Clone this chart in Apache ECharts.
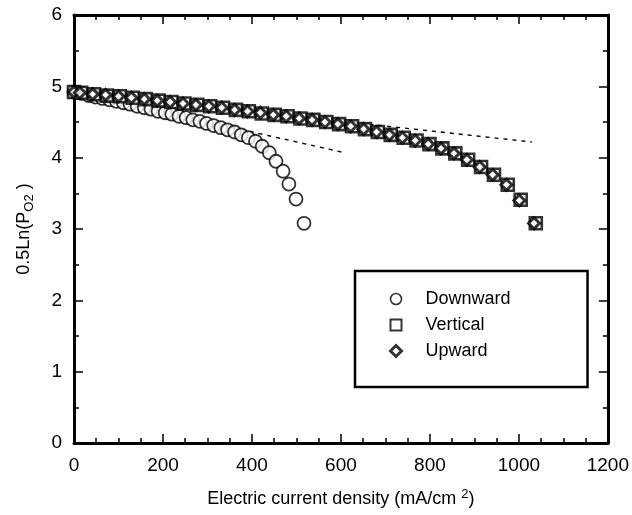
<!DOCTYPE html>
<html>
<head>
<meta charset="utf-8">
<script src="https://cdn.jsdelivr.net/npm/echarts@6/dist/echarts.min.js"></script>
<style>
html, body { margin: 0; padding: 0; background: #fff; }
#chart { width: 632px; height: 515px; }
</style>
</head>
<body>
<div id="chart"></div>
<script>
// Downward
var downX = [0, 17, 33, 48, 64, 80, 95, 111, 126, 142, 158, 173, 189, 205, 220, 236, 252, 267,
    283, 298, 314, 330, 345, 361, 376, 392, 408, 423, 439, 454, 470, 483, 499, 517];
var downY = [4.92, 4.90, 4.87, 4.85, 4.83, 4.81, 4.79, 4.77, 4.75, 4.72, 4.70, 4.68, 4.65, 4.63, 4.61, 4.58, 4.56, 4.53,
    4.51, 4.48, 4.45, 4.42, 4.39, 4.36, 4.32, 4.28, 4.23, 4.16, 4.07, 3.95, 3.81, 3.63, 3.42, 3.08];

// Vertical
var vertX = [0, 16, 45, 74, 103, 132, 161, 190, 219, 248, 277, 306, 335, 364, 393, 422, 451, 480, 509,
    538, 567, 596, 625, 654, 683, 712, 741, 770, 799, 828, 857, 886, 915, 944, 975, 1004, 1038];
var vertY = [4.92, 4.91, 4.89, 4.87, 4.86, 4.84, 4.82, 4.80, 4.78, 4.76, 4.74, 4.72, 4.70, 4.67, 4.65, 4.62, 4.60, 4.58, 4.55,
    4.53, 4.50, 4.47, 4.44, 4.40, 4.36, 4.32, 4.28, 4.24, 4.19, 4.13, 4.06, 3.97, 3.87, 3.76, 3.62, 3.41, 3.08];

// Upward
var upX = [0, 13, 42, 71, 100, 129, 158, 187, 216, 245, 274, 303, 332, 361, 390, 419, 448, 477, 506,
    535, 564, 593, 622, 651, 680, 709, 738, 767, 796, 825, 854, 883, 912, 941, 972, 1001, 1034];
var upY = [4.92, 4.91, 4.89, 4.88, 4.86, 4.84, 4.82, 4.80, 4.78, 4.76, 4.74, 4.72, 4.70, 4.67, 4.65, 4.63, 4.60, 4.58, 4.55,
    4.53, 4.50, 4.47, 4.44, 4.40, 4.36, 4.32, 4.28, 4.24, 4.19, 4.13, 4.06, 3.97, 3.87, 3.76, 3.62, 3.40, 3.08];

// dashed tangent lines
var tangent1 = [[0, 4.92], [608, 4.07]];
var tangent2 = [[0, 4.92], [1029, 4.22]];

var xTicks = { min: 0, max: 1200, interval: 200 };
var yTicks = { min: 0, max: 6, interval: 1 };

function pairs(xs, ys) {
    return xs.map(function (x, i) { return [x, ys[i]]; });
}

var myChart = echarts.init(document.getElementById('chart'));
var font = 'Liberation Sans, Arial, sans-serif';

function xAxisOf(pos, showLabel) {
    return {
        type: 'value', position: pos,
        min: xTicks.min, max: xTicks.max, interval: xTicks.interval,
        axisLine: { show: true, onZero: false, lineStyle: { color: '#000', width: 3 } },
        axisTick: { show: true, inside: true, length: 9, lineStyle: { color: '#000', width: 1.5 } },
        minorTick: { show: true, splitNumber: 4, length: 5, lineStyle: { color: '#000', width: 1.5 } },
        splitLine: { show: false },
        axisLabel: {
            show: showLabel, color: '#000', fontSize: 19, fontFamily: font, margin: 13,
            formatter: function (v) { return String(v); }
        }
    };
}
function yAxisOf(pos, showLabel) {
    return {
        type: 'value', position: pos,
        min: yTicks.min, max: yTicks.max, interval: yTicks.interval,
        axisLine: { show: true, onZero: false, lineStyle: { color: '#000', width: 3 } },
        axisTick: { show: true, inside: true, length: 9, lineStyle: { color: '#000', width: 1.5 } },
        minorTick: { show: true, splitNumber: 2, length: 5, lineStyle: { color: '#000', width: 1.5 } },
        splitLine: { show: false },
        axisLabel: { show: showLabel, color: '#000', fontSize: 19, fontFamily: font, margin: 12 }
    };
}

var xBottom = xAxisOf('bottom', true);
xBottom.name = 'Electric current density (mA/cm {sup|2})';
xBottom.nameLocation = 'middle';
xBottom.nameGap = 45;
xBottom.nameTextStyle = {
    color: '#000', fontSize: 18, fontFamily: font,
    rich: { sup: { fontSize: 13, fontFamily: font, color: '#000', padding: [0, 0, 9, 0] } }
};
var yLeft = yAxisOf('left', true);
yLeft.name = '0.5Ln(P{sub|O2} )';
yLeft.nameLocation = 'middle';
yLeft.nameGap = 38;
yLeft.nameTextStyle = {
    color: '#000', fontSize: 18, fontFamily: font,
    rich: { sub: { fontSize: 13, fontFamily: font, color: '#000', padding: [11, 0, 0, 0] } }
};

option = {
    backgroundColor: '#fff',
    animation: false,
    grid: { left: 74, right: 19, top: 15, bottom: 72 },
    xAxis: [xBottom, xAxisOf('top', false)],
    yAxis: [yLeft, yAxisOf('right', false)],
    legend: {
        orient: 'vertical',
        left: 355, top: 271,
        padding: [19, 77, 27, 34],
        borderColor: '#000', borderWidth: 2.5,
        itemWidth: 11, itemHeight: 11, itemGap: 8,
        textStyle: { color: '#000', fontSize: 18, fontFamily: font, padding: [0, 0, 0, 19] },
        data: [
            { name: 'Downward', icon: 'circle', itemStyle: { color: '#fff', borderColor: '#000', borderWidth: 1.6 } },
            { name: 'Vertical', icon: 'rect', itemStyle: { color: '#fff', borderColor: '#000', borderWidth: 2 } },
            { name: 'Upward', icon: 'diamond', itemStyle: { color: '#fff', borderColor: '#000', borderWidth: 3 } }
        ]
    },
    series: [
        {
            name: 'tangent1', type: 'line', data: tangent1, symbol: 'none', silent: true,
            lineStyle: { color: '#000', width: 1.4, type: [4, 5] }, z: 1
        },
        {
            name: 'tangent2', type: 'line', data: tangent2, symbol: 'none', silent: true,
            lineStyle: { color: '#000', width: 1.4, type: [4, 5] }, z: 1
        },
        {
            name: 'Downward', type: 'scatter', data: pairs(downX, downY),
            symbol: 'circle', symbolSize: 13,
            itemStyle: { color: '#fff', borderColor: '#000', borderWidth: 1.8 }, z: 2
        },
        {
            name: 'Vertical', type: 'scatter', data: pairs(vertX, vertY),
            symbol: 'rect', symbolSize: 12,
            itemStyle: { color: '#fff', borderColor: '#000', borderWidth: 2.6 }, z: 3
        },
        {
            name: 'Upward', type: 'scatter', data: pairs(upX, upY),
            symbol: 'diamond', symbolSize: 11,
            itemStyle: { color: '#fff', borderColor: '#000', borderWidth: 3 }, z: 4
        }
    ]
};

myChart.setOption(option);
</script>
</body>
</html>
